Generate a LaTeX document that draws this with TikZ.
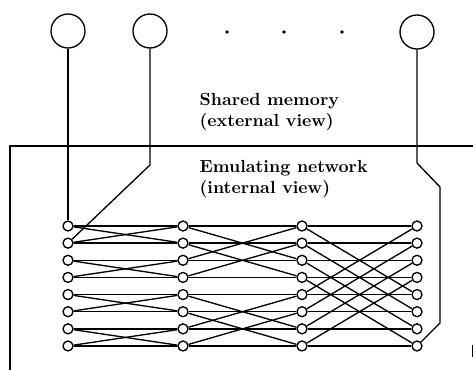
\documentclass[tikz,border=0pt]{standalone}
\usetikzlibrary{positioning}

\begin{document}
\begin{tikzpicture}[x=0.6pt, y=-0.6pt, line width=0.8pt,
  proc/.style={draw, circle, minimum size=20.4pt, inner sep=0pt},
  sw/.style={draw, circle, minimum size=6pt, inner sep=0pt, fill=white},
  lbl/.style={anchor=base west, align=left, inner sep=0pt, font=\bfseries\fontsize{10.5}{12.6}\selectfont}]
\useasboundingbox (0,0) rectangle (473,370);
% processors
\node[proc] (p1) at (68,31) {};
\node[proc] (p2) at (150,31) {};
\node[proc] (p3) at (417,32) {};
\foreach \x in {227,284,342} \fill (\x,32) circle (1.1pt);
% memory box
\draw (473,146) -- (10,146) -- (10,370);
\draw[line width=0.5pt] (472,345) -- (472,357);
\node[lbl] (ext) at (199,127) {Shared memory\\(external view)};
\node[lbl] (int) at (199,194) {Emulating network\\(internal view)};
% switches
\foreach \c/\x in {1/68,2/183,3/302,4/417}
  \foreach \r in {0,...,7}
    \node[sw] (n\c-\r) at (\x,226+17.14*\r) {};
% butterfly links
\foreach \c/\d in {1/1,2/2,3/4} {
  \pgfmathtruncatemacro\nx{\c+1}
  \foreach \r in {0,...,7} {
    \pgfmathtruncatemacro\p{mod(floor(\r/\d),2)==0 ? \r+\d : \r-\d}
    \draw (n\c-\r) -- (n\nx-\r);
    \draw (n\c-\r) -- (n\nx-\p);
  }
}
% processor links
\coordinate (k2) at (150,165);
\coordinate (k3a) at (417,163);
\coordinate (k3b) at (440,187);
\coordinate (k3c) at (440,323);
\draw (p1) -- (n1-0);
\draw (p2) -- (k2) -- (n1-1);
\draw (p3) -- (k3a) -- (k3b) -- (k3c) -- (n4-7);
\end{tikzpicture}
\end{document}
